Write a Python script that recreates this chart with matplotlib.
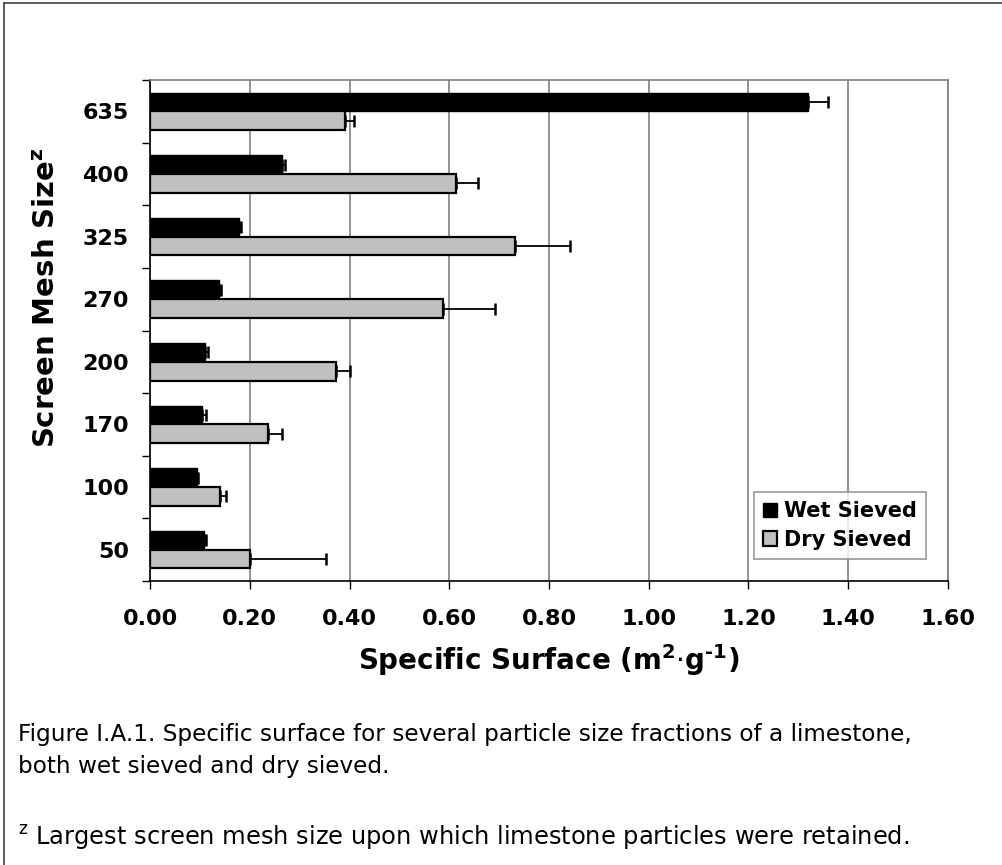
import numpy as np
import matplotlib
matplotlib.use("Agg")
import matplotlib.pyplot as plt
from matplotlib.lines import Line2D

plt.rcParams['font.family'] = 'DejaVu Sans'
plt.rcParams['mathtext.fontset'] = 'dejavusans'

# data, top to bottom as drawn
mesh = ['635', '400', '325', '270', '200', '170', '100', '50']
wet = [1.32, 0.265, 0.179, 0.138, 0.110, 0.105, 0.094, 0.109]
wet_err = [0.04, 0.006, 0.003, 0.004, 0.007, 0.007, 0.003, 0.003]
dry = [0.39, 0.613, 0.732, 0.587, 0.372, 0.236, 0.141, 0.201]
dry_err = [0.02, 0.045, 0.11, 0.104, 0.028, 0.029, 0.012, 0.152]
xticks = [0.0, 0.2, 0.4, 0.6, 0.8, 1.0, 1.2, 1.4, 1.6]

W, H = 1003, 865
fig = plt.figure(figsize=(W / 100, H / 100), dpi=100)

# outer frame (left and top edge visible)
fig.add_artist(Line2D([4 / W, 4 / W], [0, 1 - 3 / H], color='#404040', lw=1.2))
fig.add_artist(Line2D([4 / W, 1], [1 - 3 / H, 1 - 3 / H], color='#404040', lw=1.2))

ax = fig.add_axes([150 / W, 1 - 581 / H, 798 / W, 501 / H])

y = np.arange(len(mesh))
h = 0.3
ax.barh(y - h / 2, wet, height=h, color='black', edgecolor='black', lw=1.0,
        label='Wet Sieved', zorder=3)
ax.barh(y + h / 2, dry, height=h, color='#c0c0c0', edgecolor='black', lw=1.6,
        label='Dry Sieved', zorder=3)
ax.errorbar(wet, y - h / 2, xerr=[np.zeros(len(wet)), wet_err], fmt='none',
            ecolor='black', elinewidth=1.3, capsize=4.5, capthick=1.8, zorder=4)
ax.errorbar(dry, y + h / 2, xerr=[np.zeros(len(dry)), dry_err], fmt='none',
            ecolor='black', elinewidth=1.3, capsize=4.5, capthick=1.8, zorder=4)

ax.set_xlim(0, 1.6)
ax.set_ylim(len(mesh) - 0.5, -0.5)
ax.set_xticks(xticks)
ax.set_xticklabels(['%.2f' % v for v in xticks], fontsize=16, fontweight='bold')
ax.tick_params(axis='x', direction='out', length=6, width=1, pad=14)

# ticks at category boundaries, labels at centres
ax.set_yticks(np.arange(len(mesh) + 1) - 0.5)
ax.set_yticklabels([])
ax.tick_params(axis='y', which='major', direction='out', length=6, width=1)
ax.set_yticks(y, minor=True)
ax.set_yticklabels(mesh, minor=True, fontsize=16, fontweight='bold')
ax.tick_params(axis='y', which='minor', length=0, pad=15)

ax.grid(axis='x', color='#808080', lw=1.2, zorder=0)
ax.set_axisbelow(True)
for s in ['top', 'right']:
    ax.spines[s].set_color('#808080')
    ax.spines[s].set_linewidth(1.2)
for s in ['left', 'bottom']:
    ax.spines[s].set_color('black')
    ax.spines[s].set_linewidth(1.2)

leg = ax.legend(loc='lower right', bbox_to_anchor=(926 / W, 1 - 559 / H),
                bbox_transform=fig.transFigure, frameon=True, fancybox=False,
                prop={'weight': 'bold', 'size': 15}, handlelength=0.7,
                handleheight=0.7, handletextpad=0.3, borderpad=0.45,
                labelspacing=0.4, borderaxespad=0)
leg.get_frame().set_edgecolor('#808080')
leg.get_frame().set_linewidth(1.2)

fig.text(549 / W, 1 - 660 / H,
         'Specific Surface (m$^{\\mathbf{2}}$$\\cdot$g$^{\\mathbf{\u20101}}$)',
         ha='center', va='center', fontsize=20, fontweight='bold')
fig.text(47 / W, 1 - 298 / H, r'Screen Mesh Size$^{\mathbf{z}}$', rotation=90,
         ha='center', va='center', fontsize=21, fontweight='bold')

fig.text(18 / W, 1 - 734 / H,
         'Figure I.A.1. Specific surface for several particle size fractions of a limestone,',
         ha='left', va='center', fontsize=16.7)
fig.text(18 / W, 1 - 766 / H, 'both wet sieved and dry sieved.',
         ha='left', va='center', fontsize=16.7)
fig.text(18 / W, 1 - 838 / H,
         r'$^{\mathrm{z}}$ Largest screen mesh size upon which limestone particles were retained.',
         ha='left', va='center', fontsize=17.4)

fig.savefig('out.png', dpi=100)
